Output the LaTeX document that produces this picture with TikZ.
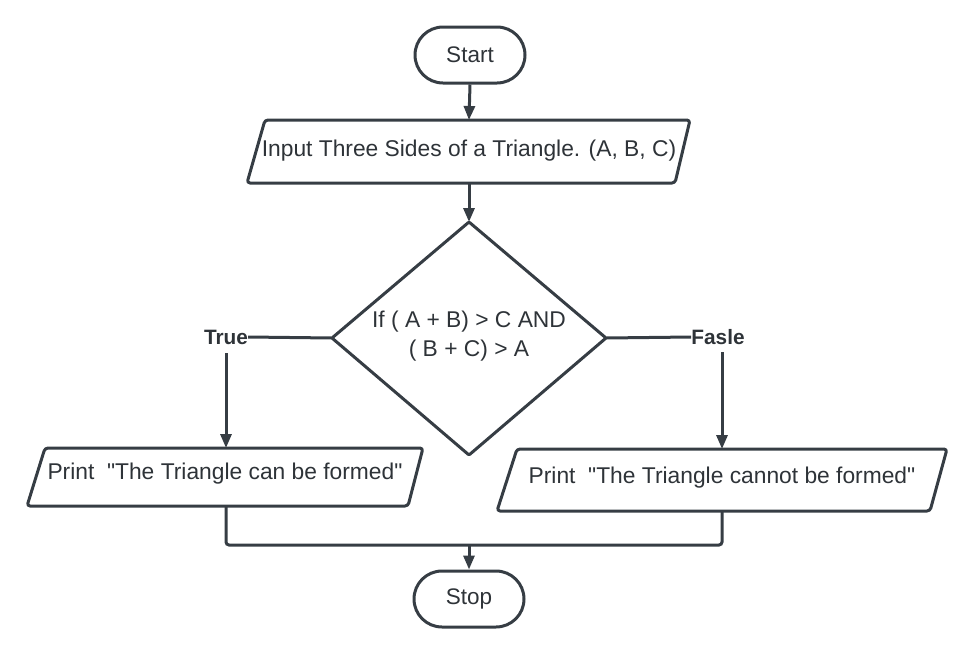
\documentclass[tikz,border=0pt]{standalone}
\usepackage{fontspec}
\setmainfont{Liberation Sans}[Ligatures=TeXOff]
\usetikzlibrary{arrows.meta,shapes.misc}
\definecolor{ln}{HTML}{363D44}
\definecolor{tx}{HTML}{2E3338}
\tikzset{
  shp/.style={draw=ln,line width=3pt,rounded corners=3pt,line join=round},
  term/.style={draw=ln,line width=3pt,rounded rectangle,minimum width=110pt,minimum height=56pt,inner sep=0pt,text=tx,font=\fontsize{22.5}{26}\selectfont},
  lbl/.style={text=tx,font=\fontsize{22.8}{29}\selectfont,inner sep=0pt,align=center},
  blbl/.style={text=tx,font=\bfseries\fontsize{20.8}{24}\selectfont,inner sep=0pt},
  con/.style={draw=ln,line width=3pt},
  arr/.style={con,-{Triangle[length=14pt,width=11pt]}},
}
\begin{document}
\begin{tikzpicture}[x=1pt,y=-1pt]
\useasboundingbox (0,0) rectangle (975,654);
% start
\node[term] (start) at (470,55) {Start};
% input parallelogram
\draw[shp] (265,120) -- (690,120) -- (675,183) -- (247,183) -- cycle;
\coordinate (itop) at (469,120);
\coordinate (ibot) at (469,183);
\node[lbl] (inp) at (469,151) {Input Three Sides of a Triangle. (A, B, C)};
% decision diamond
\coordinate (dtop) at (469,222);
\coordinate (dright) at (606,338);
\coordinate (dbot) at (469,455);
\coordinate (dleft) at (332,338);
\draw[shp,rounded corners=1pt] (dtop) -- (dright) -- (dbot) -- (dleft) -- cycle;
\node[lbl] (cond) at (469,336) {If ( A + B) > C AND\\( B + C) > A};
% labels
\node[blbl] (true) at (226,337) {True};
\node[blbl] (false) at (718,337) {Fasle};
\coordinate (ts) at (226,353);
\coordinate (fs) at (722,352);
% left print box
\draw[shp] (45,448) -- (423,448) -- (408,506) -- (27,506) -- cycle;
\coordinate (ltop) at (226,448);
\coordinate (lbot) at (226,506);
\node[lbl] (lprint) at (225,474) {Print\ \ "The Triangle can be formed"};
% right print box
\draw[shp] (517,449) -- (947,449) -- (930,511) -- (497,511) -- cycle;
\coordinate (rtop) at (722,449);
\coordinate (rbot) at (722,511);
\node[lbl] (rprint) at (722,478) {Print\ \ "The Triangle cannot be formed"};
% stop
\node[term] (stop) at (469,599) {Stop};
% merge point
\coordinate (merge) at (469,545);
% connectors
\draw[arr] (start.south) -- (itop);
\draw[arr] (ibot) -- (dtop);
\draw[con] (dleft) -- (true.east);
\draw[con] (dright) -- (false.west);
\draw[arr] (ts) -- (ltop);
\draw[arr] (fs) -- (rtop);
\draw[con,rounded corners=3pt] (lbot) |- (merge) -| (rbot);
\draw[arr] (merge) -- (stop.north);
\end{tikzpicture}
\end{document}
